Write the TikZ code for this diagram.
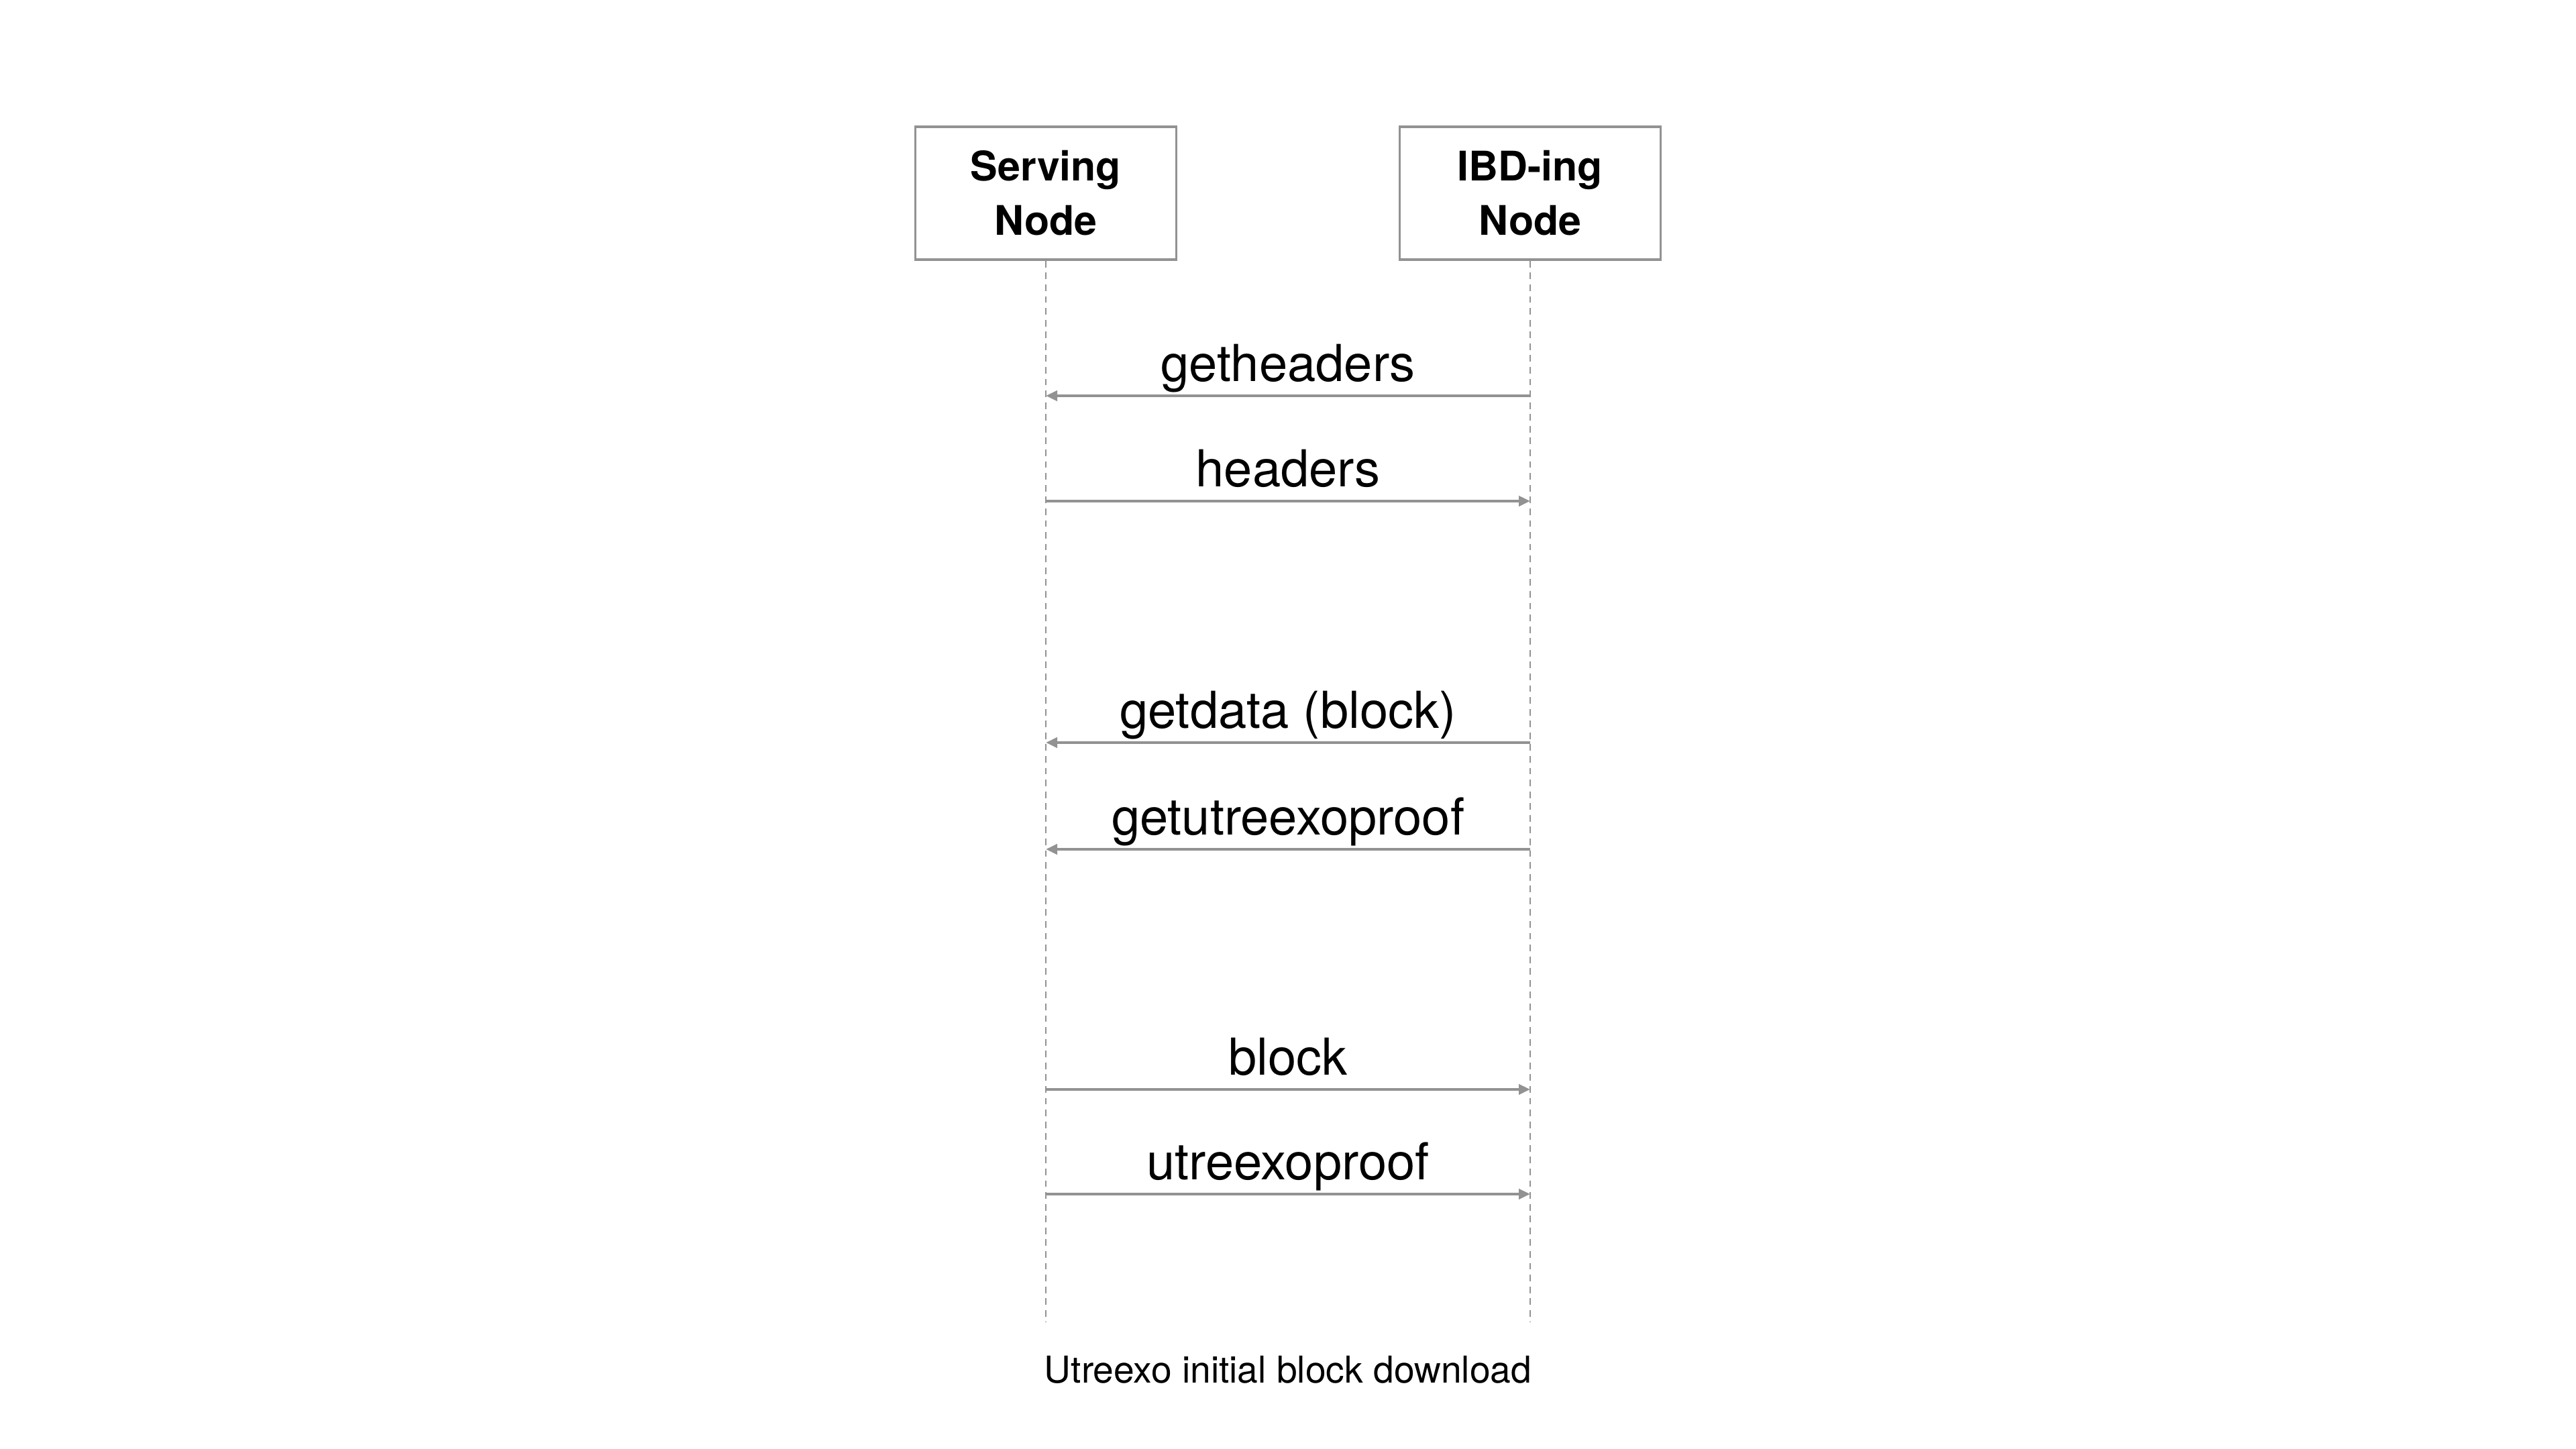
\documentclass[tikz,border=0pt]{standalone}
\usepackage{fontspec}
\setmainfont{TeX Gyre Heros}
\usetikzlibrary{arrows.meta}

\definecolor{lineg}{RGB}{146,146,146}

\tikzset{
	party/.style={draw=lineg, line width=1.1pt, minimum width=3.89cm, minimum height=1.98cm,
		align=center, font=\fontsize{17.3}{23}\selectfont\bfseries},
	life/.style={draw=lineg, line width=0.8pt, dash pattern=on 2.8pt off 2.2pt},
	msg/.style={draw=lineg, line width=1.2pt, -{Triangle[length=0.17cm, width=0.15cm]}},
	lbl/.style={anchor=base, yshift=0.21cm, font=\fontsize{21.6}{26}\selectfont},
}

\begin{document}
\begin{tikzpicture}
			\useasboundingbox (0,0) rectangle (38.4,21.6);
			
			\node[party] (serve) at (15.59, 18.72) {Serving\\Node};
			\node[party] (ibd)   at (22.81, 18.72) {IBD-ing\\Node};
			
			\coordinate (serve-end) at (serve.south |- 0,1.89);
			\coordinate (ibd-end)   at (ibd.south |- 0,1.89);
			\draw[life] (serve) -- (serve-end);
			\draw[life] (ibd) -- (ibd-end);
			
			% points on the lifelines, one pair per message
			\foreach \n/\y in {1/15.70, 2/14.13, 3/10.53, 4/8.94, 5/5.36, 6/3.80}
			{	\coordinate (s\n) at (serve.south |- 0,\y);
				\coordinate (i\n) at (ibd.south |- 0,\y);}
			
			\def\msgs {i1/s1/getheaders, s2/i2/headers, i3/s3/getdata (block), i4/s4/getutreexoproof, s5/i5/block, s6/i6/utreexoproof}
			\foreach \u/\v/\t in \msgs
			{	\draw[msg] (\u) -- node[lbl] {\t} (\v);}
			
			\node[anchor=base, font=\fontsize{15.7}{19}\selectfont] (caption) at (19.2, 0.98) {Utreexo initial block download};
		\end{tikzpicture}
\end{document}
